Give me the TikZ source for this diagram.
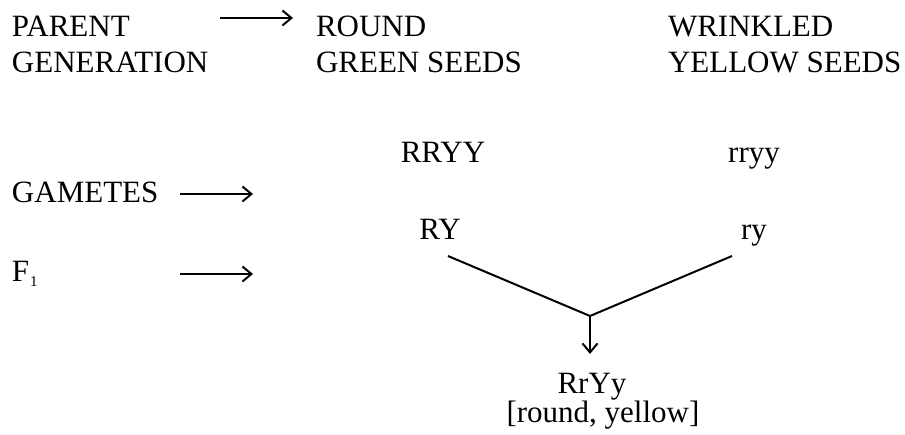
\documentclass[tikz,border=0pt]{standalone}
\usepackage{fontspec}
\setmainfont{Liberation Serif}
\usetikzlibrary{arrows.meta}
\begin{document}
\begin{tikzpicture}[x=1pt,y=1pt,
  lbl/.style={inner sep=0pt, outer sep=0pt, font=\fontsize{31pt}{37pt}\selectfont},
  conn/.style={line width=2pt, line cap=butt},
  arr/.style={conn, -{Straight Barb[length=9pt,width=15pt,line width=2pt]}}]
\useasboundingbox (0,0) rectangle (905,-435);
% left column
\node[lbl, anchor=base west] (par1) at (12,-37) {PARENT};
\node[lbl, anchor=base west] (par2) at (12,-73) {GENERATION};
\node[lbl, anchor=base west] (gam) at (12,-203) {GAMETES};
\node[lbl, anchor=base west] (f1) at (12,-282) {F\kern1pt\raisebox{-5pt}{\fontsize{15pt}{15pt}\selectfont 1}};
% arrows of the left column
\coordinate (a1s) at (220,-18);
\coordinate (a1e) at (293,-18);
\coordinate (a2s) at (180,-194);
\coordinate (a2e) at (253,-194);
\coordinate (a3s) at (180,-274);
\coordinate (a3e) at (253,-274);
\draw[arr] (a1s) -- (a1e);
\draw[arr] (a2s) -- (a2e);
\draw[arr] (a3s) -- (a3e);
% parents
\node[lbl, anchor=base west] (rd1) at (316,-37) {ROUND};
\node[lbl, anchor=base west] (rd2) at (316,-73) {GREEN SEEDS};
\node[lbl, anchor=base west] (wr1) at (668,-37) {WRINKLED};
\node[lbl, anchor=base west] (wr2) at (668,-73) {YELLOW SEEDS};
% genotypes
\node[lbl, anchor=base] (RRYY) at (443,-163) {RRYY};
\node[lbl, anchor=base] (rryy) at (754,-163) {rryy};
\node[lbl, anchor=base] (RY) at (440,-240) {RY};
\node[lbl, anchor=base] (ry) at (754,-240) {ry};
% cross
\coordinate (ls) at (448,-256);
\coordinate (rs) at (732,-256);
\coordinate (jn) at (590,-316);
\coordinate (dn) at (590,-354);
\draw[conn, line join=miter] (ls) -- (jn) -- (rs);
\draw[arr] (jn) -- (dn);
% offspring
\node[lbl, anchor=base] (f1g) at (592,-394) {RrYy};
\node[lbl, anchor=base] (f1p) at (603,-422) {[round, yellow]};
\end{tikzpicture}
\end{document}
